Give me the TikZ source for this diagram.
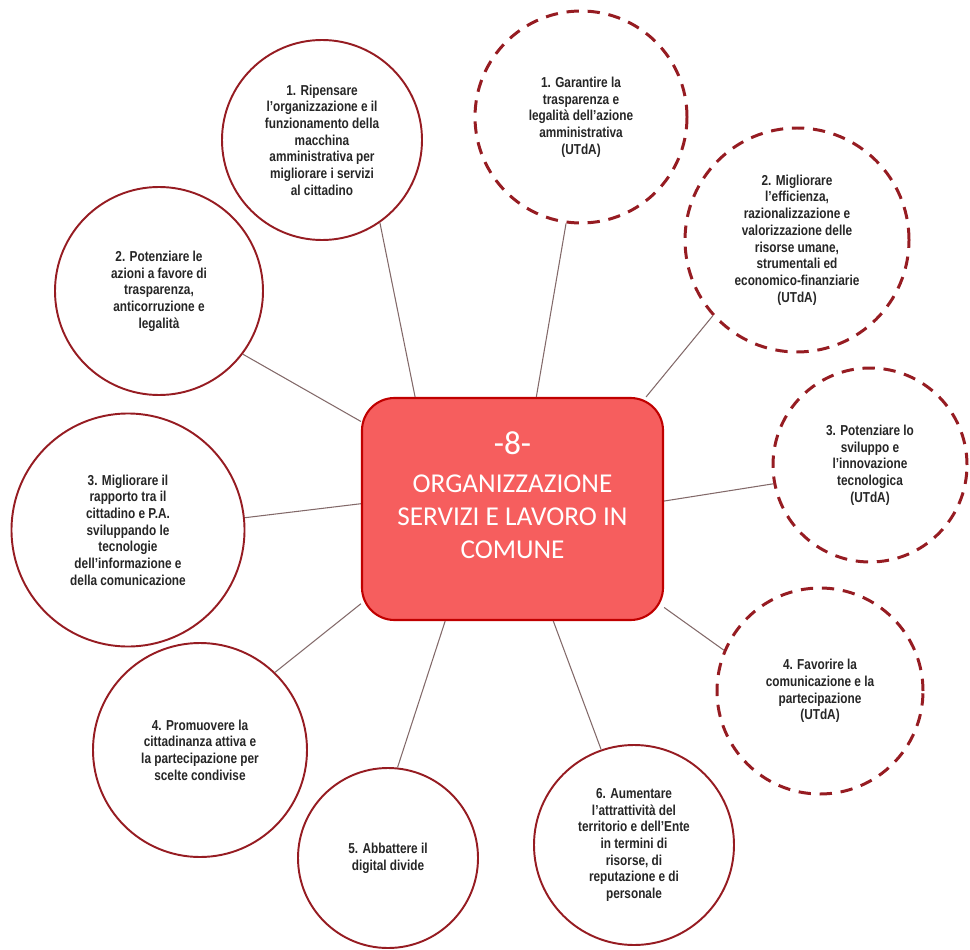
\documentclass[tikz,border=0pt]{standalone}
\usepackage{fontspec}
\setmainfont{Liberation Sans}[FakeStretch=0.82]
\newfontfamily\hubfont{Carlito}
\definecolor{orgred}{RGB}{150,28,34}
\definecolor{orgfill}{RGB}{246,94,94}
\definecolor{orgedge}{RGB}{192,0,0}
\definecolor{orgline}{RGB}{130,105,105}
\usetikzlibrary{positioning}
\tikzset{
  goal/.style={circle,draw=orgred,line width=1.1pt,fill=white,inner sep=0pt,
               align=center,text=black!85,font=\bfseries\fontsize{8.2}{9.5}\selectfont},
  goalutda/.style={goal,line width=1.7pt,dash pattern=on 7pt off 5pt},
  link/.style={orgline,line width=0.6pt}
}

\begin{document}
\begin{tikzpicture}
  \useasboundingbox (0,0) rectangle (19.4,18.98);
  %% central box
  \node[draw=orgedge,line width=1.2pt,fill=orgfill,rounded corners=0.65cm,
        minimum width=6.02cm,minimum height=4.44cm,align=center,text=white,
        text depth=0.55cm,font=\hubfont\fontsize{15.5}{18.8}\selectfont]
        (hub) at (10.25,8.80) {{\fontsize{19}{22}\selectfont -8-}\\[3pt]ORGANIZZAZIONE\\SERVIZI E LAVORO IN\\COMUNE};
  %% objectives (solid)
  \node[goal,minimum size=4.0cm] (obj1) at (6.44,16.18)
        {1. Ripensare\\l’organizzazione e il\\funzionamento della\\macchina\\amministrativa per\\migliorare i servizi\\al cittadino};
  \node[goal,minimum size=4.16cm] (obj2) at (3.18,13.16)
        {2. Potenziare le\\azioni a favore di\\trasparenza,\\anticorruzione e\\legalità};
  \node[goal,minimum size=4.66cm] (obj3) at (2.56,8.38)
        {3. Migliorare il\\rapporto tra il\\cittadino e P.A.\\sviluppando le\\tecnologie\\dell’informazione e\\della comunicazione};
  \node[goal,minimum size=4.28cm] (obj4) at (4.0,3.98)
        {4. Promuovere la\\cittadinanza attiva e\\la partecipazione per\\scelte condivise};
  \node[goal,minimum size=3.6cm] (obj5) at (7.76,1.82)
        {5. Abbattere il\\digital divide};
  \node[goal,minimum size=4.0cm] (obj6) at (12.68,2.08)
        {6. Aumentare\\l’attrattività del\\territorio e dell’Ente\\in termini di\\risorse, di\\reputazione e di\\personale};
  %% objectives UTdA (dashed)
  \node[goalutda,minimum size=4.24cm] (utda1) at (11.62,16.64)
        {1. Garantire la\\trasparenza e\\legalità dell’azione\\amministrativa\\(UTdA)};
  \node[goalutda,minimum size=4.48cm] (utda2) at (15.94,14.18)
        {2. Migliorare\\l’efficienza,\\razionalizzazione e\\valorizzazione delle\\risorse umane,\\strumentali ed\\economico-finanziarie\\(UTdA)};
  \node[goalutda,minimum size=3.88cm] (utda3) at (17.4,9.68)
        {3. Potenziare lo\\sviluppo e\\l’innovazione\\tecnologica\\(UTdA)};
  \node[goalutda,minimum size=4.12cm] (utda4) at (16.4,5.16)
        {4. Favorire la\\comunicazione e la\\partecipazione\\(UTdA)};
  %% connectors
  \draw[link] (obj1.-55) -- (hub.131);
  \draw[link] (obj2.-37) -- (hub.150);
  \draw[link] (obj3.6) -- (hub.178);
  \draw[link] (obj4.46) -- (hub.-148);
  \draw[link] (obj5.84) -- (hub.-121);
  \draw[link] (obj6.109) -- (hub.-70);
  \draw[link] (utda1.-98) -- (hub.78);
  \draw[link] (utda2.-138) -- (hub.40);
  \draw[link] (utda3.191) -- (hub.3);
  \draw[link] (utda4.157) -- (hub.-33);
\end{tikzpicture}
\end{document}
